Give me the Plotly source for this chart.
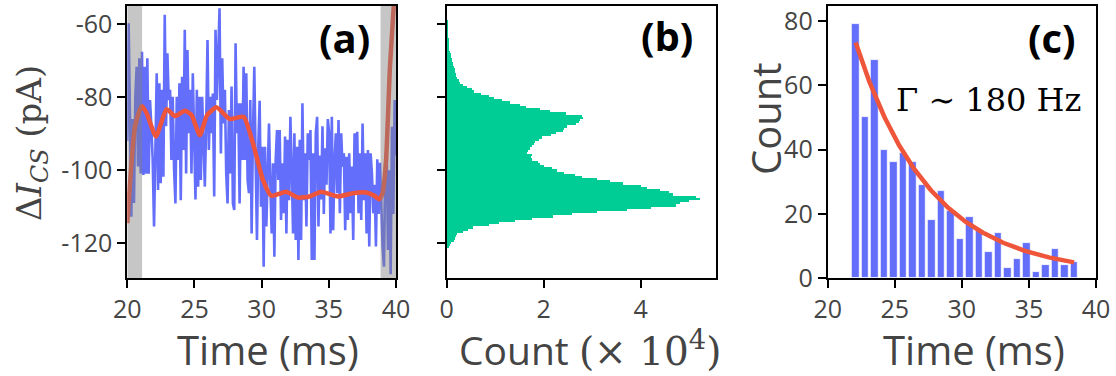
import numpy as np
import plotly.graph_objects as go

# ---------------- data ----------------
# (a) current trace, 20-40 ms, pA (uniformly sampled)
current_pA = [
    -92, -59.8, -85, -112.7, -86, -109, -80, -71.7, -99, -69.4,
    -100.9, -67.6, -101.3, -71.7, -101, -69.4, -101, -80.8, -88, -97.2,
    -115.4, -93.6, -73.5, -105.4, -76.2, -103.6, -78, -101.8, -57.5, -88,
    -68, -80.8, -78, -97.2, -79.9, -99.9, -109.1, -79.9, -97.2, -76.2,
    -108.2, -74.4, -94.5, -61.6, -100.9, -67.1, -89.9, -78, -100.9, -73.5, -88,
    -108, -78, -104.5, -79.9, -102.7, -79.9, -93.6, -104.5, -87.2, -64.4,
    -94.5, -79.9, -89.9, -79, -107.2, -61.6, -80.8, -69.4, -55.7, -95.4,
    -69.4, -87.2, -78, -100.9, -109.1, -83.5, -100.9, -77.1, -109.1, -110.9,
    -65.3, -89.9, -81.7, -109.1, -81.7, -97.2, -71.7, -97.2, -73.5, -102.7,
    -106.3, -80.8, -117.3, -89.9, -71.7, -97.2, -119.1, -93, -81, -110,
    -93.6, -126.4, -93.6, -115.4, -96.3, -87.2, -104, -117.3, -98.1, -123.7,
    -97.2, -89.0, -102.7, -89.0, -113.6, -98.1, -111.8, -90.8, -117.3, -91.7,
    -108.2, -85.4, -100, -117.3, -89.9, -119.1, -93.6, -124.6, -91.7, -119.1,
    -81.7, -108.2, -95.4, -115.4, -89.9, -97.2, -89.0, -124.6, -95.4, -124.6,
    -89.9, -85.4, -115.4, -96, -108, -88, -112, -94, -104, -86,
    -89.9, -117.3, -85.4, -116.4, -98, -89.9, -106.3, -86.3, -111.8, -89.9,
    -99, -95.4, -116.4, -96.3, -113.6, -95.4, -111.8, -99, -119.1, -89.9,
    -106.3, -89.5, -111.8, -95.4, -113.6, -87.2, -108.2, -95.4, -117.3, -94.5,
    -120.9, -95.4, -100.9, -111.8, -104, -120.9, -97, -112, -98, -110,
    -120.9, -126.4, -97.2, -93.6, -121.8, -100, -128.5, -88.1, -112, -80.8, -96,
]
trace_t_start, trace_t_end = 20.0, 40.0

# (a) smoothed level
level_t = [20.0, 20.57, 21.07, 21.44, 22.13, 22.92, 23.54, 24.28, 24.78, 25.40,
           25.94, 26.64, 27.62, 28.66, 29.35, 30.10, 30.72, 31.83, 32.70, 33.56,
           34.43, 35.67, 36.78, 37.77, 38.39, 38.76, 39.0, 39.26, 39.55, 39.85]
level_pA = [-114.5, -88.1, -82.4, -84.4, -90.8, -83.3, -85.2, -83.7, -84.9, -90.4,
            -84.9, -82.8, -86.0, -85.4, -92.6, -102.7, -107.0, -105.9, -107.5, -107.2,
            -105.9, -107.2, -106.3, -106.1, -107.0, -108.0, -106.3, -97.2, -71.7, -54.0]

# (a) excluded windows (ms)
masked_windows = [(20.0, 21.1), (38.85, 40.0)]

# (b) current histogram, counts in units of 1e4
hist_lo = -121.3
hist_bin = 0.6
hist_counts = [
    0.04, 0.06, 0.09, 0.146, 0.17, 0.19, 0.21, 0.32, 0.44, 0.54,
    0.87, 1.08, 1.41, 1.76, 2.19, 2.58, 3.10, 3.72, 4.21, 4.73,
    4.81, 4.99, 5.22, 5.14, 4.67, 4.58, 4.40, 4.13, 4.01, 3.64,
    3.37, 3.10, 2.79, 2.65, 2.42, 2.27, 2.17, 2.01, 1.92, 1.88,
    1.76, 1.73, 1.75, 1.66, 1.68, 1.72, 1.75, 1.79, 1.82, 1.90,
    1.97, 2.15, 2.25, 2.40, 2.41, 2.47, 2.66, 2.72, 2.75, 2.80,
    2.78, 2.45, 2.12, 1.92, 1.63, 1.51, 1.30, 1.14, 0.976, 0.866,
    0.70, 0.557, 0.522, 0.412, 0.33, 0.268, 0.254, 0.206, 0.19, 0.186,
    0.172, 0.158, 0.14, 0.124, 0.124, 0.11, 0.096, 0.086, 0.076, 0.06,
    0.045, 0.04, 0.037, 0.034, 0.03, 0.025, 0.02, 0.018, 0.015, 0.014,
    0.015, 0.017, 0.02, 0.02,
]

# (c) dwell-time histogram
dwell_lo = 21.73
dwell_bin = 0.708
dwell_counts = [79, 50, 68, 40, 36, 39, 36, 29, 18, 27,
                21, 12, 19, 15, 8, 14, 3, 6, 11, 2,
                4, 9, 4, 5]
gamma_hz = 180.0          # fitted rate
fit_amp = 72.3            # counts at first bin centre
fit_offset = 1.0

# ---------------- derived ----------------
trace_t = np.linspace(trace_t_start, trace_t_end, len(current_pA))
hist_centres = hist_lo + hist_bin * (np.arange(len(hist_counts)) + 0.5)
dwell_centres = dwell_lo + dwell_bin * (np.arange(len(dwell_counts)) + 0.5)
fit_t = np.linspace(dwell_centres[0], dwell_centres[-1], 200)
fit_y = fit_amp * np.exp(-gamma_hz * 1e-3 * (fit_t - dwell_centres[0])) + fit_offset

BLUE, GREEN, RED = "#636EFA", "#00CC96", "#EF553B"
W, H = 1116, 376
FONT = "Open Sans"
TXT = "#444"

fig = go.Figure()
fig.add_trace(go.Scatter(x=trace_t, y=current_pA, mode="lines",
                         line=dict(color=BLUE, width=2.6), xaxis="x", yaxis="y"))
fig.add_trace(go.Scatter(x=level_t, y=level_pA, mode="lines",
                         line=dict(color=RED, width=4.5, shape="spline", smoothing=0.5),
                         xaxis="x", yaxis="y"))
fig.add_trace(go.Bar(x=hist_counts, y=hist_centres, orientation="h", width=hist_bin * 0.78,
                     marker=dict(color=GREEN, line=dict(width=0)),
                     xaxis="x2", yaxis="y2"))
fig.add_trace(go.Bar(x=dwell_centres, y=dwell_counts, width=dwell_bin * 0.82,
                     marker=dict(color=BLUE, line=dict(color="white", width=0.8)),
                     xaxis="x3", yaxis="y3"))
fig.add_trace(go.Scatter(x=fit_t, y=fit_y, mode="lines",
                         line=dict(color=RED, width=4.5), xaxis="x3", yaxis="y3"))

for lo, hi in masked_windows:
    fig.add_shape(type="rect", xref="x", yref="paper", x0=lo, x1=hi,
                  y0=1 - 278 / H, y1=1 - 6 / H, fillcolor="rgb(128,128,128)",
                  opacity=0.45, line_width=0, layer="above")

axis = dict(showline=True, linecolor="black", linewidth=2, mirror=True,
            ticks="outside", ticklen=8, tickwidth=2, tickcolor="black",
            showgrid=False, zeroline=False, automargin=False,
            tickfont=dict(family=FONT, size=25, color=TXT))
ydom = [1 - 278 / H, 1 - 6 / H]
yr = [-129.5, -55.07]
ytv = [-60, -80, -100, -120]

fig.update_layout(
    width=W, height=H, template="none", showlegend=False,
    margin=dict(l=0, r=0, t=0, b=0),
    paper_bgcolor="white", plot_bgcolor="white", bargap=0,
    xaxis=dict(axis, domain=[127.3 / W, 396 / W], range=[20, 40],
               tickvals=[20, 25, 30, 35, 40], anchor="y"),
    yaxis=dict(axis, domain=ydom, range=yr, tickvals=ytv,
               ticktext=["-60", "-80", "-100", "-120"], anchor="x"),
    xaxis2=dict(axis, domain=[446.7 / W, 715.7 / W], range=[0, 5.55],
                tickvals=[0, 2, 4], anchor="y2"),
    yaxis2=dict(axis, domain=ydom, range=yr, tickvals=ytv, showticklabels=False,
                anchor="x2"),
    xaxis3=dict(axis, domain=[827.7 / W, 1096 / W], range=[20, 40],
                tickvals=[20, 25, 30, 35, 40], anchor="y3"),
    yaxis3=dict(axis, domain=ydom, range=[0, 84.7], tickvals=[0, 20, 40, 60, 80],
                anchor="x3"),
)

def note(text, px, py, size, color=TXT, family=FONT, angle=0):
    fig.add_annotation(text=text, x=px / W, y=1 - py / H, xref="paper", yref="paper",
                       xanchor="center", yanchor="middle", showarrow=False,
                       textangle=angle, font=dict(family=family, size=size, color=color))

note("<b>(a)</b>", 344, 37, 40, color="black")
note("<b>(b)</b>", 667, 35, 40, color="black")
note("<b>(c)</b>", 1052, 37, 40, color="black")
note("Γ ∼ 180 Hz", 988, 100, 32, color="black", family="DejaVu Serif")
note("Time (ms)", 268, 349, 40)
note("Time (ms)", 974, 349, 40)
note("Count <span style=\"font-family:'DejaVu Serif'\">(× 10<sup>4</sup>)</span>", 590, 349, 39)
note("Count", 765, 118, 40, angle=-90)
note("Δ<i>I</i><sub><i>CS</i></sub> (pA)", 32, 143, 34, family="DejaVu Serif", angle=-90)

fig.write_html("out.html")
